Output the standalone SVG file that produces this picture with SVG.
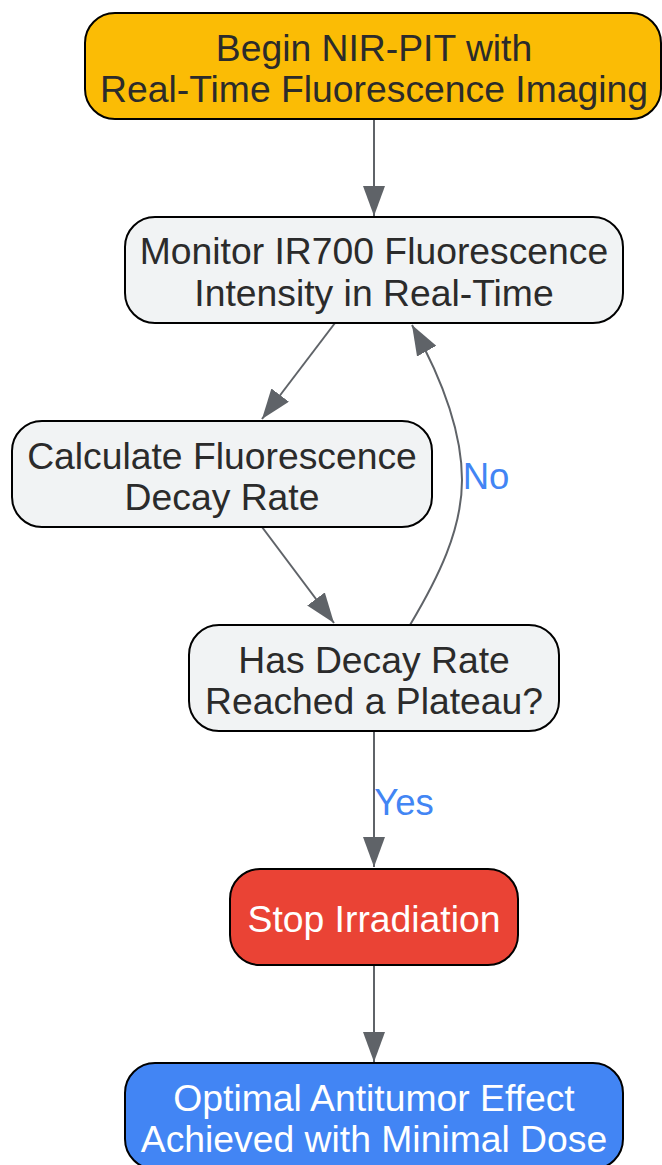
<svg xmlns="http://www.w3.org/2000/svg" width="662" height="1165" viewBox="0 0 662 1165">
<defs>
<style>
.node rect{stroke:#000;stroke-width:2}
.n-start rect{fill:#FBBC05}
.n-proc rect{fill:#F1F3F4}
.n-stop rect{fill:#EA4335}
.n-end rect{fill:#4285F4}
.node text{font-family:"Liberation Sans",Arial,sans-serif;font-size:37.3px;text-anchor:middle;fill:#2b2b2b}
.n-stop text,.n-end text{fill:#fff}
.edge{fill:none;stroke:#5F6368;stroke-width:2}
.elabel{font-family:"Liberation Sans",Arial,sans-serif;font-size:36.5px;text-anchor:middle;fill:#4285F4}
</style>
<marker id="arrow" viewBox="0 0 30 22" refX="30" refY="11" markerWidth="30" markerHeight="22" markerUnits="userSpaceOnUse" orient="auto">
<path d="M0,0 L30,11 L0,22 Z" fill="#5F6368"/>
</marker>
</defs>
<rect width="662" height="1165" fill="#fff"/>
<g id="edges">
<path class="edge" d="M374,119 L374,216" marker-end="url(#arrow)"/>
<path class="edge" d="M335,323 L262,419" marker-end="url(#arrow)"/>
<path class="edge" d="M262,527 L334,623" marker-end="url(#arrow)"/>
<path class="edge" d="M410,625 C438,578 462,530 462,480 C462,430 440,375 412,325" marker-end="url(#arrow)"/>
<path class="edge" d="M374,731 L374,867" marker-end="url(#arrow)"/>
<path class="edge" d="M374,965 L374,1062" marker-end="url(#arrow)"/>
<text class="elabel" x="486" y="489">No</text>
<text class="elabel" x="404" y="815">Yes</text>
</g>
<g id="node-start" class="node n-start">
<rect x="85" y="13" width="576" height="106" rx="30" ry="30"/>
<text x="374" y="61">Begin NIR-PIT with</text>
<text x="374" y="102">Real-Time Fluorescence Imaging</text>
</g>
<g id="node-monitor" class="node n-proc">
<rect x="125" y="217" width="498" height="106" rx="30" ry="30"/>
<text x="374" y="264">Monitor IR700 Fluorescence</text>
<text x="374" y="306">Intensity in Real-Time</text>
</g>
<g id="node-calc" class="node n-proc">
<rect x="12" y="421" width="420" height="106" rx="30" ry="30"/>
<text x="222" y="469">Calculate Fluorescence</text>
<text x="222" y="510">Decay Rate</text>
</g>
<g id="node-decision" class="node n-proc">
<rect x="189" y="625" width="370" height="106" rx="30" ry="30"/>
<text x="374" y="673">Has Decay Rate</text>
<text x="374" y="714">Reached a Plateau?</text>
</g>
<g id="node-stop" class="node n-stop">
<rect x="230" y="869" width="288" height="96" rx="30" ry="30"/>
<text x="374" y="932">Stop Irradiation</text>
</g>
<g id="node-end" class="node n-end">
<rect x="125" y="1063" width="498" height="106" rx="30" ry="30"/>
<text x="374" y="1111">Optimal Antitumor Effect</text>
<text x="374" y="1152">Achieved with Minimal Dose</text>
</g>
</svg>
